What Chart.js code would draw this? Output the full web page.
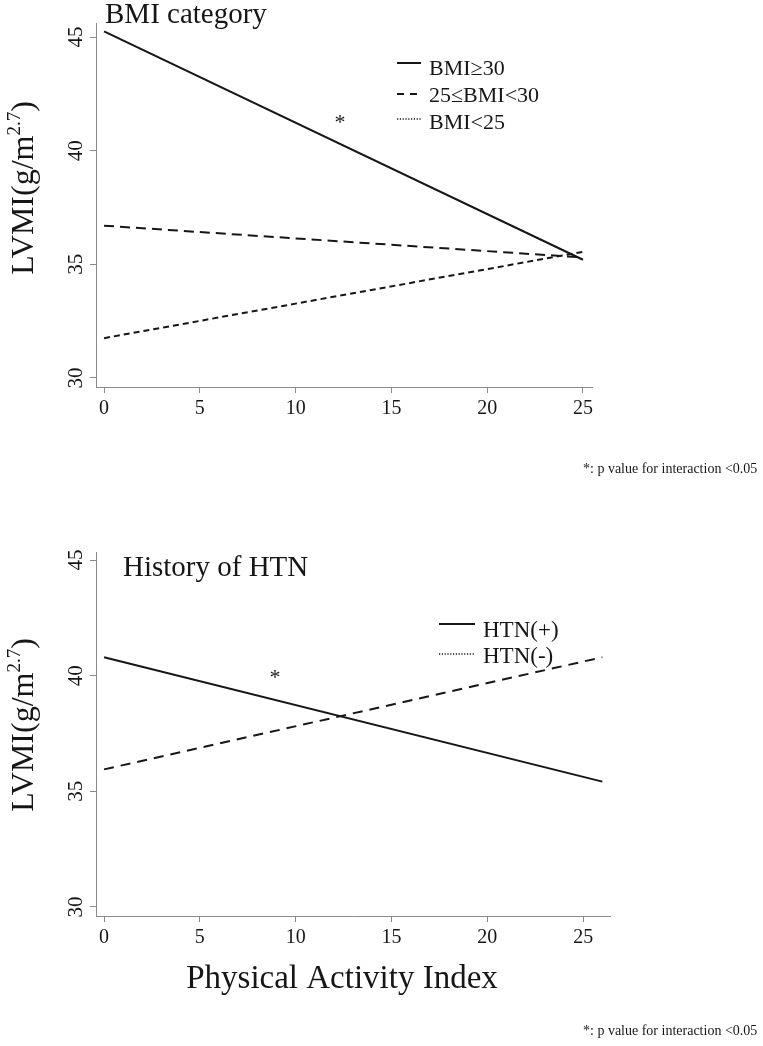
<!DOCTYPE html>
<html><head><meta charset="utf-8">
<script src="https://cdn.jsdelivr.net/npm/chart.js@4.4.1/dist/chart.umd.min.js"></script>
<style>
html,body{margin:0;padding:0;background:#fff;}
#wrap{position:relative;width:763px;height:1046px;overflow:hidden;background:#fff}
canvas{position:absolute;left:0;top:0}
</style></head>
<body><div id="wrap"><canvas id="c1" width="763" height="1046"></canvas><canvas id="c2" width="763" height="1046"></canvas></div>
<script>
// ---- data ----
const xTicks = [0, 5, 10, 15, 20, 25];
const yTicks = [30, 35, 40, 45];
const bmiX = [0, 25];
const bmiLabels = ['BMI\u226530', '25\u2264BMI<30', 'BMI<25'];
const bmiHigh = [45.25, 35.2];
const bmiMid = [36.7, 35.3];
const bmiLow = [31.75, 35.55];
const htnX = [0, 26];
const htnLabels = ['HTN(+)', 'HTN(-)'];
const htnPos = [40.8, 35.42];
const htnNeg = [35.95, 40.8];
const panelTitles = ['BMI category', 'History of HTN'];
const yTitle = ['LVMI(g/m', '2.7', ')'];
const xTitle = 'Physical Activity Index';
const footnote = '*: p value for interaction <0.05';

const SERIF = "'Liberation Serif','Times New Roman',serif";
const INK = '#161616';
const AXIS = '#8a8a8a';

function pts(xs, vals){ return xs.map((x,i)=>({x:x, y:vals[i]})); }

function drawText(ctx, txt, x, y, size, align){
  ctx.save();
  ctx.font = size + 'px ' + SERIF;
  ctx.fillStyle = INK;
  ctx.textAlign = align || 'left';
  ctx.textBaseline = 'alphabetic';
  ctx.fillText(txt, x, y);
  ctx.restore();
}
function sample(ctx, x1, x2, y, dash, w){
  ctx.save();
  ctx.beginPath();
  ctx.setLineDash(dash);
  ctx.lineWidth = w;
  ctx.strokeStyle = INK;
  ctx.moveTo(x1, y); ctx.lineTo(x2, y);
  ctx.stroke();
  ctx.restore();
}
function drawYTitle(ctx, x, cy){
  ctx.save();
  ctx.translate(x, cy);
  ctx.rotate(-Math.PI/2);
  ctx.fillStyle = INK;
  ctx.textBaseline = 'alphabetic';
  const big = '32px ' + SERIF, small = '19px ' + SERIF;
  ctx.font = big; const w1 = ctx.measureText(yTitle[0]).width;
  ctx.font = small; const w2 = ctx.measureText(yTitle[1]).width;
  ctx.font = big; const w3 = ctx.measureText(yTitle[2]).width;
  let sx = -(w1 + w2 + w3) / 2;
  ctx.font = big; ctx.fillText(yTitle[0], sx, 0); sx += w1;
  ctx.font = small; ctx.fillText(yTitle[1], sx, -13); sx += w2;
  ctx.font = big; ctx.fillText(yTitle[2], sx, 0);
  ctx.restore();
}

function makeChart(id, datasets, xMax, padRight, yMin, yMax, padTop, padBottom, decorate){
  return new Chart(document.getElementById(id), {
    type: 'line',
    data: { datasets: datasets },
    options: {
      responsive: false,
      animation: false,
      devicePixelRatio: 1,
      layout: { padding: { left: 0, right: padRight, top: padTop, bottom: padBottom } },
      plugins: { legend: { display: false }, tooltip: { enabled: false }, title: { display: false } },
      elements: { point: { radius: 0 }, line: { tension: 0 } },
      scales: {
        x: {
          type: 'linear', min: -0.42, max: xMax,
          afterBuildTicks: s => { s.ticks = xTicks.map(v => ({ value: v })); },
          afterFit: s => { s.height = 40; },
          grid: { display: true, drawOnChartArea: false, drawTicks: true, tickLength: 6, color: AXIS, lineWidth: 1 },
          border: { display: true, color: AXIS, width: 1 },
          ticks: { font: { family: SERIF, size: 20 }, color: INK, padding: 4, autoSkip: false, maxRotation: 0 }
        },
        y: {
          type: 'linear', min: yMin, max: yMax,
          afterBuildTicks: s => { s.ticks = yTicks.map(v => ({ value: v })); },
          afterFit: s => { s.width = 96; },
          grid: { display: true, drawOnChartArea: false, drawTicks: true, tickLength: 6, color: AXIS, lineWidth: 1 },
          border: { display: true, color: AXIS, width: 1 },
          ticks: { font: { family: SERIF, size: 21 }, color: INK, padding: 3, minRotation: 90, maxRotation: 90, crossAlign: 'center', autoSkip: false }
        }
      }
    },
    plugins: [{ id: 'deco', afterDraw: c => decorate(c.ctx) }]
  });
}

function ds(label, xs, vals, dash){
  return { label: label, data: pts(xs, vals), borderColor: INK, borderWidth: 2, borderDash: dash, fill: false, pointRadius: 0 };
}

makeChart('c1', [
  ds(bmiLabels[0], bmiX, bmiHigh, []),
  ds(bmiLabels[1], bmiX, bmiMid, [10, 6]),
  ds(bmiLabels[2], bmiX, bmiLow, [6, 4])
], 25.47, 171, 29.6, 45.62, 23, 619, ctx => {
  drawText(ctx, panelTitles[0], 105, 23, 29);
  sample(ctx, 397, 421, 63, [], 2);
  sample(ctx, 397, 418, 94, [7, 6], 2);
  sample(ctx, 397, 421, 119, [1.2, 1.6], 1.5);
  drawText(ctx, bmiLabels[0], 429, 75, 22);
  drawText(ctx, bmiLabels[1], 429, 102, 22);
  drawText(ctx, bmiLabels[2], 429, 129, 22);
  drawText(ctx, '*', 340, 129, 22, 'center');
  drawYTitle(ctx, 33, 188);
  drawText(ctx, footnote, 583, 473, 14);
});

makeChart('c2', [
  ds(htnLabels[0], htnX, htnPos, []),
  ds(htnLabels[1], htnX, htnNeg, [10, 7])
], 26.4, 153, 29.61, 45.35, 552, 90, ctx => {
  drawText(ctx, panelTitles[1], 123, 576, 29);
  sample(ctx, 439, 475, 624, [], 2);
  sample(ctx, 439, 475, 654, [1.2, 1.6], 1.5);
  drawText(ctx, htnLabels[0], 483, 637, 23);
  drawText(ctx, htnLabels[1], 483, 663, 23);
  drawText(ctx, '*', 275, 684, 22, 'center');
  drawYTitle(ctx, 33, 725);
  drawText(ctx, xTitle, 342, 988, 33, 'center');
  drawText(ctx, footnote, 583, 1035, 14);
});
</script>
</body></html>
